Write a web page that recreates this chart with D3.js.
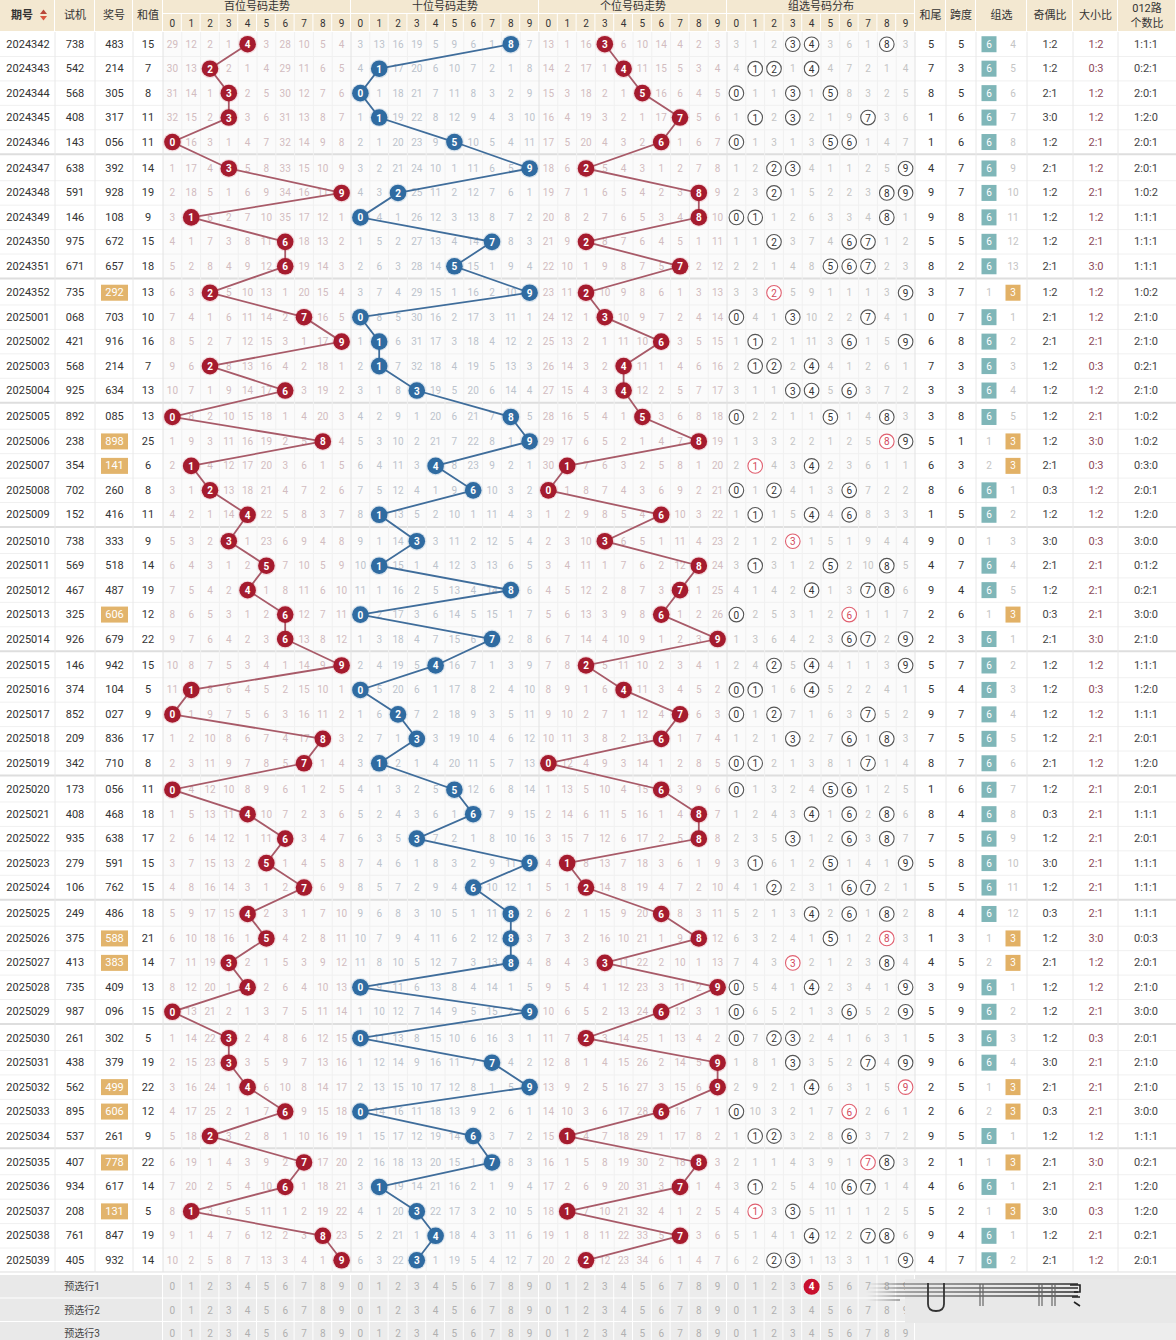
<!DOCTYPE html>
<html>
<head>
<meta charset="utf-8">
<script src="https://cdn.jsdelivr.net/npm/d3@7"></script>
<style>
  body { margin: 0; background: #fff; }
  svg text { font-family: Roboto, "Noto Sans CJK SC", sans-serif; }
</style>
</head>
<body>
<svg id="chart" width="1176" height="1340"></svg>
<script>
// ---- data ----
const periods = ['2024342','2024343','2024344','2024345','2024346','2024347','2024348','2024349','2024350','2024351','2024352',
  '2025001','2025002','2025003','2025004','2025005','2025006','2025007','2025008','2025009','2025010',
  '2025011','2025012','2025013','2025014','2025015','2025016','2025017','2025018','2025019','2025020',
  '2025021','2025022','2025023','2025024','2025025','2025026','2025027','2025028','2025029','2025030',
  '2025031','2025032','2025033','2025034','2025035','2025036','2025037','2025038','2025039'];
const testNums = ['738','542','568','408','143','638','591','146','975','671','735',
  '068','421','568','925','892','238','354','702','152','738',
  '569','467','325','926','146','374','852','209','342','173',
  '408','935','279','106','249','375','413','735','987','261',
  '438','562','895','537','407','934','208','761','405'];
const prizeNums = ['483','214','305','317','056','392','928','108','672','657','292',
  '703','916','214','634','085','898','141','260','416','333',
  '518','487','606','679','942','104','027','836','710','056',
  '468','638','591','762','486','588','383','409','096','302',
  '379','499','606','261','778','617','131','847','932'];
const sums = [15,7,8,11,11,14,19,9,15,18,13, 10,16,7,13,13,25,6,8,11,9, 14,19,12,22,15,5,9,17,8,11,
  18,17,15,15,18,21,14,13,15,5, 19,22,12,9,22,14,5,19,14];
const sumTails = [5,7,8,1,1,4,9,9,5,8,3, 0,6,7,3,3,5,6,8,1,9, 4,9,2,2,5,5,9,7,8,1,
  8,7,5,5,8,1,4,3,5,5, 9,2,2,9,2,4,5,9,4];
const spans = [5,3,5,6,6,7,7,8,5,2,7, 7,8,3,3,8,1,3,6,5,0, 7,4,6,3,7,4,7,5,7,6,
  4,5,8,5,4,3,5,9,9,3, 6,5,6,5,1,6,2,4,7];
const oddEven = ['1:2','1:2','2:1','3:0','1:2','2:1','1:2','1:2','1:2','2:1','1:2',
  '2:1','2:1','1:2','1:2','1:2','1:2','2:1','0:3','1:2','3:0',
  '2:1','1:2','0:3','2:1','1:2','1:2','1:2','1:2','2:1','1:2',
  '0:3','1:2','3:0','1:2','0:3','1:2','2:1','1:2','1:2','1:2',
  '3:0','2:1','0:3','1:2','2:1','2:1','3:0','1:2','2:1'];
const bigSmall = ['1:2','0:3','1:2','1:2','2:1','1:2','2:1','1:2','2:1','3:0','1:2',
  '1:2','2:1','0:3','1:2','2:1','3:0','0:3','1:2','1:2','0:3',
  '2:1','2:1','2:1','3:0','1:2','0:3','1:2','2:1','1:2','2:1',
  '2:1','2:1','2:1','2:1','2:1','3:0','1:2','1:2','2:1','0:3',
  '2:1','2:1','2:1','1:2','3:0','2:1','0:3','2:1','1:2'];
const road012 = ['1:1:1','0:2:1','2:0:1','1:2:0','2:0:1','2:0:1','1:0:2','1:1:1','1:1:1','1:1:1','1:0:2',
  '2:1:0','2:1:0','0:2:1','2:1:0','1:0:2','1:0:2','0:3:0','2:0:1','1:2:0','3:0:0',
  '0:1:2','0:2:1','3:0:0','2:1:0','1:1:1','1:2:0','1:1:1','2:0:1','1:2:0','2:0:1',
  '1:1:1','2:0:1','1:1:1','1:1:1','1:1:1','0:0:3','2:0:1','2:1:0','3:0:0','2:0:1',
  '2:1:0','2:1:0','3:0:0','1:1:1','0:2:1','1:2:0','1:2:0','0:2:1','2:0:1'];

// omission counts shown on the first row (hit cells = 0)
const baiFirst = [29,12,2,1,0,3,28,10,5,4];
const shiFirst = [3,13,16,19,5,9,6,1,0,7];
const geFirst  = [13,1,16,0,6,10,14,4,2,3];
const zuFirst  = [3,1,2,0,0,3,6,1,0,3];
const groupFirst = [0,4]; // 组六, 组三

const digits = [0,1,2,3,4,5,6,7,8,9];
const sectionTitles = ['百位号码走势','十位号码走势','个位号码走势','组选号码分布'];
const previewLabels = ['预选行1','预选行2','预选行3'];
const previewPicks = [[], [], []];   // per preview row: [section index, digit]
previewPicks[0].push([3, 4]);

// ---- layout ----
const svg = d3.select('#chart');
const W = 1176;
const headerH = 32, titleH = 14;
const rh = 24.45, gap = 2;
const rowTop = i => headerH + i * rh + Math.floor(i / 5) * gap;
const rowY = i => rowTop(i) + rh / 2;
const dataBottom = rowTop(periods.length - 1) + rh;

const leftCols = [
  {name: '期号', x0: 0, x1: 55},
  {name: '试机', x0: 55, x1: 95},
  {name: '奖号', x0: 95, x1: 133},
  {name: '和值', x0: 133, x1: 163}
];
const sectW = 188;
const sections = [163, 351, 539, 727].map((x0, k) => ({
  x0, k, title: sectionTitles[k],
  x: d3.scaleBand().domain(digits).range([x0, x0 + sectW])
}));
const rightCols = [
  {name: '和尾', x0: 915, x1: 946},
  {name: '跨度', x0: 946, x1: 976},
  {name: '组选', x0: 976, x1: 1027},
  {name: '奇偶比', x0: 1027, x1: 1073},
  {name: '大小比', x0: 1073, x1: 1118},
  {name: '012路', name2: '个数比', x0: 1118, x1: 1176}
];

const red = '#a51b2e', blue = '#2f6ba1';

// ---- derived hits & omission counts ----
const draws = prizeNums.map(s => s.split('').map(Number));
function omissions(first, hits) {
  let om = first.slice();
  return hits.map((h, i) => {
    if (i > 0) om = om.map((v, d) => hits[i - 1].includes(d) ? 1 : v + 1);
    return om.slice();
  });
}
const posHits = [0, 1, 2].map(p => draws.map(d => [d[p]]));
const zuHits = draws.map(d => Array.from(new Set(d)));
const omGrid = [
  omissions(baiFirst, posHits[0]),
  omissions(shiFirst, posHits[1]),
  omissions(geFirst, posHits[2]),
  omissions(zuFirst, zuHits)
];
const groupType = draws.map(d => ({3: '6', 2: '3', 1: 'b'})[new Set(d).size]);
const groupOm = omissions(groupFirst, groupType.map(t => t === '6' ? [0] : t === '3' ? [1] : []));

// ---- header ----
const hdr = svg.append('g');
const hdrFill = '#f3e8d1';
leftCols.concat(rightCols).forEach(c => {
  hdr.append('rect').attr('x', c.x0).attr('y', 0).attr('width', c.x1 - c.x0 - 1).attr('height', headerH - 1).attr('fill', hdrFill);
  if (c.name2) {
    hdr.append('text').attr('x', (c.x0 + c.x1) / 2).attr('y', 8).attr('text-anchor', 'middle').attr('dominant-baseline', 'central')
      .attr('font-size', 11).attr('fill', '#333').text(c.name);
    hdr.append('text').attr('x', (c.x0 + c.x1) / 2).attr('y', 23).attr('text-anchor', 'middle').attr('dominant-baseline', 'central')
      .attr('font-size', 11).attr('fill', '#333').text(c.name2);
  } else {
    const cx = c.name === '期号' ? 22 : (c.x0 + c.x1) / 2;
    hdr.append('text').attr('x', cx).attr('y', 15).attr('text-anchor', 'middle').attr('dominant-baseline', 'central')
      .attr('font-size', 11).attr('font-weight', c.name === '期号' ? 'bold' : 'normal').attr('fill', '#333').text(c.name);
  }
});
// sort arrows next to 期号
hdr.append('path').attr('d', 'M40,14 L43.5,9.5 L47,14 Z').attr('fill', '#b8473a');
hdr.append('path').attr('d', 'M40,16 L43.5,20.5 L47,16 Z').attr('fill', '#d9553f');

sections.forEach(s => {
  hdr.append('rect').attr('x', s.x0).attr('y', 0).attr('width', sectW - 1).attr('height', titleH - 1).attr('fill', hdrFill);
  hdr.append('text').attr('x', s.x0 + sectW / 2).attr('y', 6.5).attr('text-anchor', 'middle').attr('dominant-baseline', 'central')
    .attr('font-size', 11).attr('fill', '#333').text(s.title);
  digits.forEach(d => {
    hdr.append('rect').attr('x', s.x(d)).attr('y', titleH).attr('width', s.x.bandwidth() - 1).attr('height', headerH - titleH - 1).attr('fill', hdrFill);
    hdr.append('text').attr('x', s.x(d) + s.x.bandwidth() / 2).attr('y', 23).attr('text-anchor', 'middle').attr('dominant-baseline', 'central')
      .attr('font-size', 10).attr('fill', '#333').text(d);
  });
});

// ---- body background & grid ----
const grid = svg.append('g');
grid.append('rect').attr('x', 163).attr('y', headerH).attr('width', 4 * sectW).attr('height', dataBottom - headerH).attr('fill', '#fbfbfb');
periods.forEach((p, i) => {
  grid.append('line').attr('x1', 0).attr('x2', W).attr('y1', rowTop(i) + rh).attr('y2', rowTop(i) + rh)
    .attr('stroke', (i % 5 === 4) ? '#dedede' : '#f0f0f0').attr('stroke-width', (i % 5 === 4) ? gap : 1);
});
sections.forEach(s => {
  digits.forEach(d => {
    if (d === 0) return;
    grid.append('line').attr('x1', s.x(d)).attr('x2', s.x(d)).attr('y1', headerH).attr('y2', dataBottom)
      .attr('stroke', '#f0f0f0');
  });
});
[55, 95, 133, 163, 351, 539, 727, 915, 946, 976, 1027, 1073, 1118].forEach(x => {
  grid.append('line').attr('x1', x).attr('x2', x).attr('y1', headerH).attr('y2', dataBottom)
    .attr('stroke', x >= 163 && x <= 915 ? '#e2e2e2' : '#e8e8e8');
});

// ---- left columns ----
const body = svg.append('g');
periods.forEach((p, i) => {
  const y = rowY(i);
  const t = (x, s, col) => body.append('text').attr('x', x).attr('y', y).attr('text-anchor', 'middle')
    .attr('dominant-baseline', 'central').attr('font-size', 11).attr('fill', col || '#333').text(s);
  t(28, p);
  t(75, testNums[i]);
  if (groupType[i] === '3') {
    body.append('rect').attr('x', 101).attr('y', y - 8).attr('width', 27).attr('height', 16).attr('fill', '#e2b46c');
    t(114.5, prizeNums[i], '#fff');
  } else {
    t(114.5, prizeNums[i]);
  }
  t(148, sums[i]);
});

// ---- trend sections ----
sections.forEach((s, k) => {
  const g = svg.append('g');
  const cx = d => s.x(d) + s.x.bandwidth() / 2;
  const omColor = k === 1 ? '#bcc3cc' : (k === 3 ? '#c4c4c4' : '#d2bcc0');
  periods.forEach((p, i) => {
    const hits = k < 3 ? posHits[k][i] : zuHits[i];
    digits.forEach(d => {
      if (hits.includes(d)) return;
      g.append('text').attr('x', cx(d)).attr('y', rowY(i)).attr('text-anchor', 'middle').attr('dominant-baseline', 'central')
        .attr('font-size', 10).attr('fill', omColor).text(omGrid[k][i][d]);
    });
  });
  if (k < 3) {
    const col = k === 1 ? blue : red;
    const line = d3.line().x(d => cx(d[0])).y(d => rowY(d[1]));
    g.append('path').datum(draws.map((dr, i) => [dr[k], i])).attr('d', line)
      .attr('fill', 'none').attr('stroke', k === 1 ? '#3f6d9b' : '#a85a68').attr('stroke-width', 1.8);
    draws.forEach((dr, i) => {
      g.append('circle').attr('cx', cx(dr[k])).attr('cy', rowY(i)).attr('r', 9.5)
        .attr('fill', k === 1 ? 'rgba(47,107,161,0.15)' : 'rgba(200,60,80,0.15)');
      g.append('circle').attr('cx', cx(dr[k])).attr('cy', rowY(i)).attr('r', 8.3).attr('fill', col);
      g.append('text').attr('x', cx(dr[k])).attr('y', rowY(i) + 0.5).attr('text-anchor', 'middle').attr('dominant-baseline', 'central')
        .attr('font-size', 10).attr('font-weight', 'bold').attr('fill', '#fff').text(dr[k]);
    });
  } else {
    draws.forEach((dr, i) => {
      zuHits[i].forEach(d => {
        const dup = dr.filter(v => v === d).length > 1;
        g.append('circle').attr('cx', cx(d)).attr('cy', rowY(i)).attr('r', 7.3)
          .attr('fill', '#fff').attr('stroke', dup ? '#e06070' : '#555').attr('stroke-width', 1.1);
        g.append('text').attr('x', cx(d)).attr('y', rowY(i) + 0.5).attr('text-anchor', 'middle').attr('dominant-baseline', 'central')
          .attr('font-size', 10).attr('fill', dup ? '#d24a5c' : '#333').text(d);
      });
    });
  }
});

// ---- right columns ----
const rg = svg.append('g');
periods.forEach((p, i) => {
  const y = rowY(i);
  const t = (x, s, col, size) => rg.append('text').attr('x', x).attr('y', y).attr('text-anchor', 'middle')
    .attr('dominant-baseline', 'central').attr('font-size', size || 11).attr('fill', col || '#333').text(s);
  t(931, sumTails[i]);
  t(961, spans[i]);
  const type = groupType[i];
  if (type === '6') {
    rg.append('rect').attr('x', 981.5).attr('y', y - 8).attr('width', 15).attr('height', 16).attr('fill', '#7fb6b8');
    t(989, '6', '#fff', 10);
  } else {
    t(989, groupOm[i][0], '#c4c4c4', 10);
  }
  if (type === '3') {
    rg.append('rect').attr('x', 1005.5).attr('y', y - 8).attr('width', 15).attr('height', 16).attr('fill', '#e2b166');
    t(1013, '3', '#fff', 10);
  } else {
    t(1013, groupOm[i][1], '#c4c4c4', 10);
  }
  t(1050, oddEven[i], '#444');
  t(1096, bigSmall[i], '#8e4a5a');
  t(1146, road012[i], '#444');
});

// ---- preview rows ----
const pv = svg.append('g');
const pvTop = dataBottom + 2.5, pvH = 23.5;
pv.append('rect').attr('x', 0).attr('y', dataBottom).attr('width', W).attr('height', 1340 - dataBottom).attr('fill', '#fff');
previewLabels.forEach((lab, r) => {
  const y0 = pvTop + r * pvH;
  pv.append('rect').attr('x', 0).attr('y', y0).attr('width', 162).attr('height', pvH - 1).attr('fill', '#e9e9e9');
  pv.append('text').attr('x', 82).attr('y', y0 + pvH / 2).attr('text-anchor', 'middle').attr('dominant-baseline', 'central')
    .attr('font-size', 10).attr('fill', '#444').text(lab);
  sections.forEach((s, k) => {
    digits.forEach(d => {
      const cx = s.x(d) + s.x.bandwidth() / 2;
      pv.append('rect').attr('x', s.x(d)).attr('y', y0).attr('width', s.x.bandwidth() - 1).attr('height', pvH - 1).attr('fill', '#ececec');
      const picked = previewPicks[r].some(pk => pk[0] === k && pk[1] === d);
      if (picked) {
        pv.append('circle').attr('cx', cx).attr('cy', y0 + pvH / 2).attr('r', 8).attr('fill', '#c8102e');
      }
      pv.append('text').attr('x', cx).attr('y', y0 + pvH / 2).attr('text-anchor', 'middle').attr('dominant-baseline', 'central')
        .attr('font-size', 10).attr('font-weight', picked ? 'bold' : 'normal').attr('fill', picked ? '#fff' : '#b0b0b0').text(d);
    });
  });
  pv.append('rect').attr('x', 915).attr('y', y0).attr('width', W - 915).attr('height', pvH - 1).attr('fill', r < 2 ? '#e6e6e6' : '#ededed');
});

// smeared watermark over the lower right corner
const wm = svg.append('g');
const grad = svg.append('defs').append('linearGradient').attr('id', 'smear')
  .attr('gradientUnits', 'userSpaceOnUse').attr('x1', 866).attr('x2', 1078).attr('y1', 0).attr('y2', 0);
grad.append('stop').attr('offset', '0%').attr('stop-color', '#888').attr('stop-opacity', 0);
grad.append('stop').attr('offset', '15%').attr('stop-color', '#555').attr('stop-opacity', 0.6);
grad.append('stop').attr('offset', '100%').attr('stop-color', '#222').attr('stop-opacity', 0.95);
wm.append('rect').attr('x', 905).attr('y', 1279).attr('width', 271).attr('height', 44).attr('fill', '#e8e8e8');
[1284, 1288, 1292, 1296, 1300].forEach((y, k) => {
  wm.append('line').attr('x1', 866).attr('x2', k === 4 ? 900 : 1078).attr('y1', y).attr('y2', y)
    .attr('stroke', 'url(#smear)').attr('stroke-width', 1.6);
});
wm.append('path').attr('d', 'M928,1283 L928,1304 Q928,1311 936,1311 Q944,1311 944,1304 L944,1283')
  .attr('fill', 'none').attr('stroke', '#333').attr('stroke-width', 1.8);
[980, 983, 1039, 1042, 1052, 1055].forEach(x => {
  wm.append('line').attr('x1', x).attr('x2', x).attr('y1', 1284).attr('y2', 1306).attr('stroke', '#666').attr('stroke-width', 1.2);
});
wm.append('path').attr('d', 'M1070,1285 L1080,1285 L1080,1292 L1074,1292 M1072,1297 L1080,1297 M1074,1302 L1080,1306')
  .attr('fill', 'none').attr('stroke', '#222').attr('stroke-width', 1.6);
</script>
</body>
</html>
